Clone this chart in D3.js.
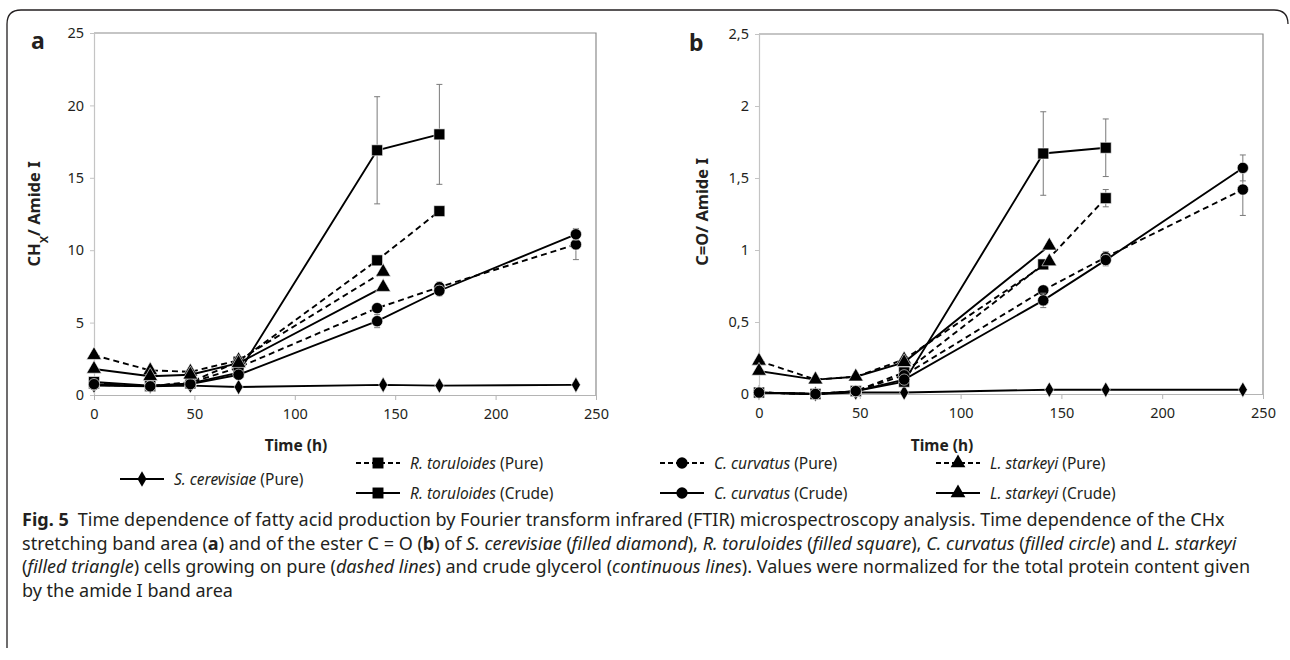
<!DOCTYPE html>
<html>
<head>
<meta charset="utf-8">
<script src="https://cdn.jsdelivr.net/npm/d3@7"></script>
<style>
  body { margin: 0; background: #fff; }
  svg { display: block; }
  text { font-family: "Noto Sans", sans-serif; fill: #231f20; }
</style>
</head>
<body>
<svg id="fig" width="1290" height="660"></svg>
<script>
// sampling times (h), per organism
const tCer = [0, 28, 48, 72, 144, 172, 240];
const tTor = [0, 28, 48, 72, 141, 172];
const tCur = [0, 28, 48, 72, 141, 172, 240];
const tSta = [0, 28, 48, 72, 144];

// panel a: CHx / Amide I
const chCerPure   = [0.65, 0.6, 0.65, 0.55, 0.7, 0.65, 0.7];
const chTorPure   = [0.8, 0.6, 0.9, 2.3, 9.3, 12.7];
const chTorCrude  = [0.9, 0.65, 0.8, 1.55, 16.9, 18.0];
const chCurPure   = [0.7, 0.6, 0.85, 1.9, 6.0, 7.45, 10.4];
const chCurCrude  = [0.75, 0.6, 0.75, 1.4, 5.1, 7.2, 11.1];
const chStaPure   = [2.75, 1.7, 1.6, 2.4, 8.5];
const chStaCrude  = [1.8, 1.3, 1.4, 2.2, 7.45];
const chTorPureErr  = [0.1, 0.1, 0.1, 0.2, 0.3, 0.3];
const chTorCrudeErr = [0.15, 0.1, 0.15, 0.2, 3.7, 3.45];
const chCurPureErr  = [0.2, 0.1, 0.15, 0.2, 0.3, 0.35, 1.05];
const chCurCrudeErr = [0.2, 0.1, 0.15, 0.2, 0.45, 0.35, 0.4];

// panel b: C=O / Amide I
const coCerPure   = [0.01, 0.0, 0.01, 0.01, 0.03, 0.03, 0.03];
const coTorPure   = [0.01, 0.0, 0.02, 0.15, 0.9, 1.36];
const coTorCrude  = [0.01, 0.0, 0.02, 0.085, 1.67, 1.71];
const coCurPure   = [0.01, 0.0, 0.02, 0.13, 0.72, 0.95, 1.42];
const coCurCrude  = [0.01, 0.0, 0.02, 0.1, 0.65, 0.93, 1.57];
const coStaPure   = [0.23, 0.1, 0.12, 0.24, 0.92];
const coStaCrude  = [0.16, 0.1, 0.12, 0.22, 1.03];
const coTorPureErr  = [0, 0, 0, 0.02, 0.03, 0.06];
const coTorCrudeErr = [0, 0, 0, 0.02, 0.29, 0.2];
const coCurPureErr  = [0, 0, 0, 0.02, 0.03, 0.04, 0.18];
const coCurCrudeErr = [0, 0, 0, 0.02, 0.05, 0.04, 0.09];

const xTicks = [0, 50, 100, 150, 200, 250];
const chTicks = [0, 5, 10, 15, 20, 25];
const coTicks = [0, 0.5, 1, 1.5, 2, 2.5];

const series = [
  { sp: "S. cerevisiae", med: "Pure",  t: tCer, a: chCerPure,  b: coCerPure,  sym: d3.symbolDiamond,  size: 70,  dash: false },
  { sp: "R. toruloides", med: "Pure",  t: tTor, a: chTorPure,  b: coTorPure,  aErr: chTorPureErr,  bErr: coTorPureErr,  sym: d3.symbolSquare, size: 120, dash: true },
  { sp: "R. toruloides", med: "Crude", t: tTor, a: chTorCrude, b: coTorCrude, aErr: chTorCrudeErr, bErr: coTorCrudeErr, sym: d3.symbolSquare, size: 120, dash: false },
  { sp: "C. curvatus",   med: "Pure",  t: tCur, a: chCurPure,  b: coCurPure,  aErr: chCurPureErr,  bErr: coCurPureErr,  sym: d3.symbolCircle, size: 100, dash: true },
  { sp: "C. curvatus",   med: "Crude", t: tCur, a: chCurCrude, b: coCurCrude, aErr: chCurCrudeErr, bErr: coCurCrudeErr, sym: d3.symbolCircle, size: 100, dash: false },
  { sp: "L. starkeyi",   med: "Pure",  t: tSta, a: chStaPure,  b: coStaPure,  sym: d3.symbolTriangle, size: 95, dash: true },
  { sp: "L. starkeyi",   med: "Crude", t: tSta, a: chStaCrude, b: coStaCrude, sym: d3.symbolTriangle, size: 95, dash: false }
];

const svg = d3.select("#fig");
const comma = d3.formatLocale({ decimal: ",", thousands: ".", grouping: [3], currency: ["", ""] });

// figure frame (rounded, open at the bottom)
svg.append("path")
  .attr("d", "M7,648 V24 Q7,10 21,10 H1274 Q1288,10 1288,24")
  .attr("fill", "none").attr("stroke", "#231f20").attr("stroke-width", 1.3);

function drawPanel(o) {
  const x = d3.scaleLinear().domain([0, 250]).range([o.left, o.right]);
  const y = d3.scaleLinear().domain([0, o.yMax]).range([o.bottom, o.top]);
  const g = svg.append("g");

  // plot area border (top + right)
  g.append("path")
    .attr("d", `M${o.left},${o.top}H${o.right}V${o.bottom}`)
    .attr("fill", "none").attr("stroke", "#8c8c8c").attr("stroke-width", 1.2);

  const ya = g.append("g")
    .attr("transform", `translate(${o.left},0)`)
    .call(d3.axisLeft(y).tickValues(o.ticks).tickFormat(o.fmt).tickSize(4).tickSizeOuter(0).tickPadding(6));
  ya.select(".domain").attr("stroke", "#c4c4c4").attr("stroke-width", 1.2);
  ya.selectAll(".tick line").attr("stroke", "#c4c4c4");
  ya.selectAll("text").attr("font-size", 14.5).attr("font-family", "Noto Sans").attr("fill", "#222");

  const xa = g.append("g")
    .attr("transform", `translate(0,${o.bottom})`)
    .call(d3.axisBottom(x).tickValues(xTicks).tickSize(5).tickSizeOuter(0).tickPadding(9));
  xa.select(".domain").attr("stroke", "#b4b4b4").attr("stroke-width", 1.2);
  xa.selectAll(".tick line").attr("stroke", "#b4b4b4");
  xa.selectAll("text").attr("font-size", 14.5).attr("font-family", "Noto Sans").attr("fill", "#222");

  // panel letter
  g.append("text").attr("x", o.letterX).attr("y", o.letterY)
    .attr("font-family", "Liberation Sans").attr("font-weight", "bold").attr("font-size", 23)
    .text(o.letter);

  // y title
  const yt = g.append("text")
    .attr("transform", `translate(${o.yTitleX},${o.yTitleY}) rotate(-90)`)
    .attr("text-anchor", "middle").attr("font-weight", "bold").attr("font-size", 16.5);
  o.yTitle.forEach(([s, sub]) => {
    const ts = yt.append("tspan").text(s);
    if (sub) ts.attr("baseline-shift", "sub").attr("font-size", 11);
  });

  // x title
  g.append("text").attr("x", o.xTitleX).attr("y", 451)
    .attr("text-anchor", "middle").attr("font-weight", "bold").attr("font-size", 15.5)
    .text("Time (h)");

  const line = d3.line().x(d => x(d.t)).y(d => y(d.v));

  series.forEach(s => {
    const pts = s.t.map((t, i) => ({ t, v: s[o.field][i], e: s[o.field + "Err"] ? s[o.field + "Err"][i] : 0 }));

    const eg = g.append("g").attr("stroke", "#7a7a7a").attr("stroke-width", 1);
    pts.filter(d => d.e > 0).forEach(d => {
      const px = x(d.t);
      eg.append("line").attr("x1", px).attr("x2", px).attr("y1", y(d.v - d.e)).attr("y2", y(d.v + d.e));
      eg.append("line").attr("x1", px - 3).attr("x2", px + 3).attr("y1", y(d.v - d.e)).attr("y2", y(d.v - d.e));
      eg.append("line").attr("x1", px - 3).attr("x2", px + 3).attr("y1", y(d.v + d.e)).attr("y2", y(d.v + d.e));
    });

    g.append("path").datum(pts)
      .attr("d", line)
      .attr("fill", "none").attr("stroke", "#000").attr("stroke-width", 1.9)
      .attr("stroke-dasharray", s.dash ? "6,4" : null);

    g.selectAll(null).data(pts).enter().append("path")
      .attr("transform", d => `translate(${x(d.t)},${y(d.v)})`)
      .attr("d", d3.symbol().type(s.sym).size(s.size))
      .attr("fill", "#000").attr("stroke", "#fff").attr("stroke-width", 0.6);
  });
}

drawPanel({
  left: 94, right: 596, top: 33, bottom: 395, yMax: 25, ticks: chTicks,
  fmt: d3.format("d"), field: "a", letter: "a", letterX: 31, letterY: 49,
  yTitleX: 40, yTitleY: 214, yTitle: [["CH"], ["X", true], ["/ Amide I"]], xTitleX: 296
});
drawPanel({
  left: 759, right: 1263, top: 34, bottom: 394, yMax: 2.5, ticks: coTicks,
  fmt: comma.format(".1~f"), field: "b", letter: "b", letterX: 689, letterY: 51,
  yTitleX: 708, yTitleY: 212, yTitle: [["C=O/ Amide I"]], xTitleX: 942
});

// legend
const legendPos = [
  { x: 120, y: 479 },
  { x: 356, y: 463 }, { x: 356, y: 493 },
  { x: 660, y: 463 }, { x: 660, y: 493 },
  { x: 936, y: 463 }, { x: 936, y: 493 }
];
series.forEach((s, i) => {
  const p = legendPos[i];
  const lg = svg.append("g").attr("transform", `translate(${p.x},${p.y})`);
  lg.append("line").attr("x1", 0).attr("x2", 44).attr("y1", 0).attr("y2", 0)
    .attr("stroke", "#000").attr("stroke-width", 2.2)
    .attr("stroke-dasharray", s.dash ? "5,3" : null);
  lg.append("path").attr("transform", "translate(22,0)")
    .attr("d", d3.symbol().type(s.sym).size(s.size))
    .attr("fill", "#000");
  const tx = lg.append("text").attr("x", 54).attr("y", 5.5).attr("font-size", 15.5);
  tx.append("tspan").attr("font-style", "italic").text(s.sp);
  tx.append("tspan").text(" (" + s.med + ")");
});

// caption
const captionLines = [
  [["Fig. 5", "b"], ["\u2002Time dependence of fatty acid production by Fourier transform infrared (FTIR) microspectroscopy analysis. Time dependence of the CHx", "r"]],
  [["stretching band area (", "r"], ["a", "b"], [") and of the ester C = O (", "r"], ["b", "b"], [") of ", "r"], ["S. cerevisiae", "i"], [" (", "r"], ["filled diamond", "i"], ["), ", "r"], ["R. toruloides", "i"], [" (", "r"], ["filled square", "i"], ["), ", "r"], ["C. curvatus", "i"], [" (", "r"], ["filled circle", "i"], [") and ", "r"], ["L. starkeyi", "i"]],
  [["(", "r"], ["filled triangle", "i"], [") cells growing on pure (", "r"], ["dashed lines", "i"], [") and crude glycerol (", "r"], ["continuous lines", "i"], ["). Values were normalized for the total protein content given", "r"]],
  [["by the amide I band area", "r"]]
];
const capY = [526, 550, 573, 597];
const capNodes = captionLines.map((segs, i) => {
  const t = svg.append("text").attr("x", 22).attr("y", capY[i]).attr("font-size", 15);
  segs.forEach(([s, st]) => {
    t.append("tspan").text(s)
      .attr("font-weight", st === "b" ? "bold" : null)
      .attr("font-style", st === "i" ? "italic" : null);
  });
  return t;
});
const w0 = capNodes[0].node().getComputedTextLength();
const capSize = 15 * 1203 / w0;
capNodes.forEach(t => t.attr("font-size", capSize));
</script>
</body>
</html>
